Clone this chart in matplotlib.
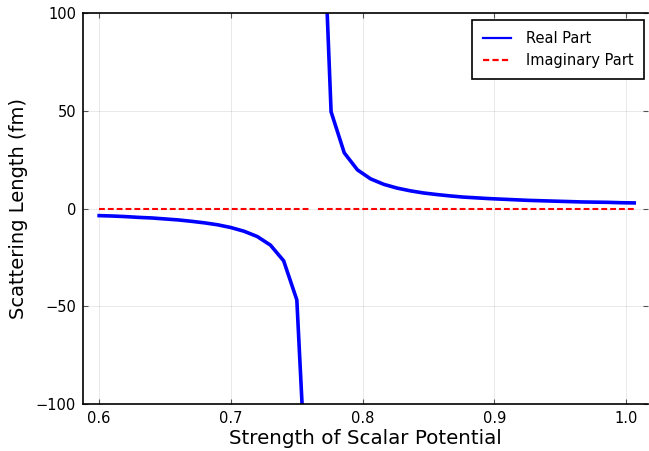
import numpy as np
import matplotlib.pyplot as plt

# strength of scalar potential, two branches either side of the pole
x_lower = [0.60, 0.61, 0.62, 0.63, 0.64, 0.65, 0.66, 0.67, 0.68, 0.69,
           0.70, 0.71, 0.72, 0.73, 0.74, 0.75, 0.76]
x_upper = [0.766, 0.776, 0.786, 0.796, 0.806, 0.816, 0.826, 0.836, 0.846,
           0.856, 0.866, 0.876, 0.886, 0.896, 0.906, 0.916, 0.926, 0.936,
           0.946, 0.956, 0.966, 0.976, 0.986, 0.996, 1.006]

# scattering length (fm)
real_lower = [-3.6, -3.8, -4.1, -4.5, -4.8, -5.3, -5.8, -6.5, -7.3, -8.3,
              -9.7, -11.6, -14.3, -18.7, -26.7, -46.7, -181.0]
real_upper = [220.0, 49.5, 28.5, 19.8, 15.2, 12.4, 10.5, 9.1, 8.0, 7.2,
              6.5, 5.9, 5.5, 5.1, 4.8, 4.5, 4.2, 4.0, 3.8, 3.6, 3.4, 3.3,
              3.2, 3.0, 2.9]
imag_lower = [0.0] * len(x_lower)
imag_upper = [0.0] * len(x_upper)

# the pole point is undefined -> NaN gap in both series
x = np.array(x_lower + [np.nan] + x_upper)
re = np.array(real_lower + [np.nan] + real_upper)
im = np.array(imag_lower + [np.nan] + imag_upper)

fig = plt.figure(figsize=(6.49, 4.51), dpi=100)
ax = fig.add_axes([0.128, 0.104, 0.8705, 0.867])

ax.plot(x, re, color="blue", lw=2.6, label="Real Part")
ax.plot(x, im, color="red", lw=1.5, linestyle=(0, (2.8, 1.45)), label="Imaginary Part")

ax.set_xlim(0.5878, 1.0165)
ax.set_ylim(-100, 100)
ax.set_xticks([0.6, 0.7, 0.8, 0.9, 1.0])
ax.set_xticklabels(["0.6", "0.7", "0.8", "0.9", "1.0"])
ax.set_yticks([-100, -50, 0, 50, 100])
ax.set_yticklabels(["\u2212100", "\u221250", "0", "50", "100"])

ax.grid(True, color="black", alpha=0.1, lw=0.6)
ax.tick_params(direction="in", length=3.5, width=0.8, color="#555555",
               top=True, right=True, labelsize=10.5, pad=5)
for s in ax.spines.values():
    s.set_linewidth(1.2)
ax.spines["right"].set_visible(False)

ax.set_xlabel("Strength of Scalar Potential", fontsize=14.3, labelpad=2)
ax.set_ylabel("Scattering Length (fm)", fontsize=14, labelpad=6)

leg = ax.legend(loc="upper right", fontsize=10.5, fancybox=False,
                edgecolor="black", framealpha=1, borderpad=0.75,
                handlelength=1.9, handletextpad=1.0, borderaxespad=0,
                bbox_to_anchor=(0.993, 0.982))
leg.get_frame().set_linewidth(1.2)
for h in leg.get_lines():
    h.set_linewidth(1.6)

fig.savefig("out.png", dpi=100)
